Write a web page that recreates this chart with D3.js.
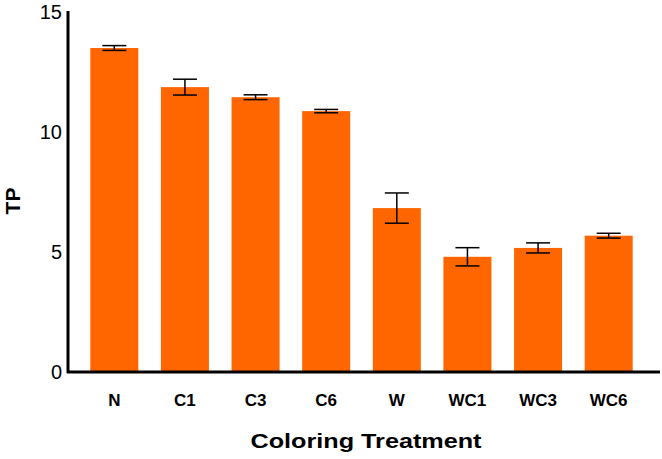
<!DOCTYPE html>
<html><head><meta charset="utf-8">
<script src="https://cdn.jsdelivr.net/npm/d3@7"></script>
<style>body{margin:0;background:#fff}svg{display:block}text{font-family:"Liberation Sans",Arial,sans-serif}</style>
</head><body><svg id="c" width="662" height="459"></svg>
<script>
const categories = ["N","C1","C3","C6","W","WC1","WC3","WC6"];
const values = [13.5, 11.87, 11.45, 10.87, 6.83, 4.8, 5.17, 5.68];
const errors = [0.1, 0.33, 0.1, 0.07, 0.63, 0.38, 0.21, 0.1];
const yTicks = [0, 5, 10, 15];

const svg = d3.select("#c");
const x = d3.scaleBand().domain(categories).range([79, 644]).paddingInner(0.32).paddingOuter(0.16);
const y = d3.scaleLinear().domain([0, 15]).range([372, 12]);

svg.append("g").selectAll("rect").data(categories).join("rect")
  .attr("x", d => x(d)).attr("width", x.bandwidth())
  .attr("y", (d,i) => y(values[i])).attr("height", (d,i) => y(0) - y(values[i]))
  .attr("fill", "#ff6600");

const eb = svg.append("g").attr("stroke", "#000").attr("stroke-width", 1.5);
categories.forEach((c, i) => {
  const cx = x(c) + x.bandwidth()/2, hw = 12;
  eb.append("line").attr("x1", cx).attr("x2", cx).attr("y1", y(values[i]+errors[i])).attr("y2", y(values[i]-errors[i]));
  eb.append("line").attr("x1", cx-hw).attr("x2", cx+hw).attr("y1", y(values[i]+errors[i])).attr("y2", y(values[i]+errors[i]));
  eb.append("line").attr("x1", cx-hw).attr("x2", cx+hw).attr("y1", y(values[i]-errors[i])).attr("y2", y(values[i]-errors[i]));
});

const yAxis = svg.append("g").attr("transform", "translate(68,0)")
  .call(d3.axisLeft(y).tickValues(yTicks).tickSize(0).tickPadding(6));
yAxis.select(".domain").attr("stroke", "#000").attr("stroke-width", 3).attr("d", "M0,11V373");
yAxis.selectAll("text").attr("font-size", 20).attr("fill", "#000").style("font-family", "Liberation Sans, Arial, sans-serif");

const xAxis = svg.append("g").attr("transform", "translate(0,372)")
  .call(d3.axisBottom(x).tickSize(0).tickPadding(22));
xAxis.select(".domain").attr("stroke", "#000").attr("stroke-width", 3).attr("d", "M67,0H660");
xAxis.selectAll("text").attr("font-size", 17).attr("font-weight", "bold").attr("fill", "#000")
  .style("font-family", "Liberation Sans, Arial, sans-serif");

svg.append("text").attr("transform", "translate(366,448) scale(1.2,1)").attr("text-anchor", "middle")
  .attr("font-size", 21).attr("font-weight", "bold").text("Coloring Treatment");
svg.append("text").attr("transform", "translate(20,201) rotate(-90)").attr("text-anchor", "middle")
  .attr("font-size", 21).attr("font-weight", "bold").text("TP");
</script></body></html>
